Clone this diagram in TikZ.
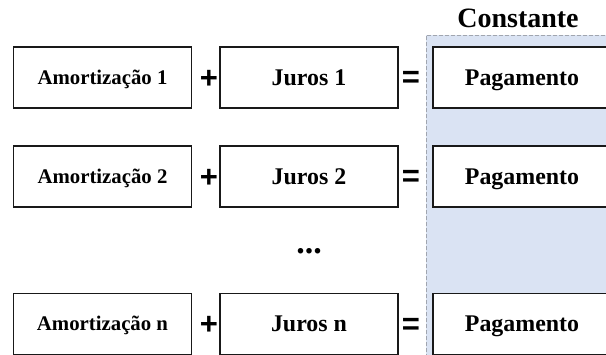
\documentclass[tikz,border=0pt]{standalone}
\usepackage{fontspec}
\setmainfont{Liberation Serif}
\newfontfamily\signfont{Liberation Sans}
\definecolor{constblue}{RGB}{218,227,243}
\definecolor{dashgray}{RGB}{160,165,175}
\tikzset{
  box/.style={draw=black!90, line width=1.3pt, rectangle, minimum width=178pt, minimum height=61pt, inner sep=0pt, fill=white},
  amort/.style={box, font=\fontsize{20.8}{23}\selectfont\bfseries, text height=13.8pt, text depth=0pt},
  juros/.style={box, font=\fontsize{23.9}{26}\selectfont\bfseries, text height=15.8pt, text depth=0pt},
  sign/.style={font=\fontsize{31}{33}\signfont\bfseries\selectfont, inner sep=0pt},
  title/.style={font=\fontsize{28}{30}\selectfont\bfseries, text height=18.5pt, text depth=0pt, inner sep=0pt}
}
\begin{document}
\begin{tikzpicture}[x=1pt,y=-1pt]
\useasboundingbox (0,0) rectangle (606,354);
\begin{scope}
\clip (0,0) rectangle (606,354);
% constant region
\fill[constblue] (426,35) rectangle (620,370);
\draw[dashgray, line width=0.9pt, dash pattern=on 4pt off 2pt] (426,370) -- (426,35) -- (620,35);
\node[title] (const) at (518,18.5) {Constante};
% row 1
\node[amort] (a1) at (102.5,77.5) {Amortização 1};
\node[juros] (j1) at (309,77.5) {Juros 1};
\node[juros] (p1) at (522,77.5) {Pagamento};
\node[sign] (plus1) at (209,79) {+};
\node[sign] (eq1) at (411,79.5) {=};
% row 2
\node[amort] (a2) at (102.5,176.5) {Amortização 2};
\node[juros] (j2) at (309,176.5) {Juros 2};
\node[juros] (p2) at (522,176.5) {Pagamento};
\node[sign] (plus2) at (209,178) {+};
\node[sign] (eq2) at (411,178.5) {=};
% dots
\node[font=\fontsize{34}{36}\selectfont\bfseries, inner sep=0pt] (dots) at (309,251) {...};
% row 3
\node[amort] (a3) at (102.5,324) {Amortização n};
\node[juros] (j3) at (309,324) {Juros n};
\node[juros] (p3) at (522,324) {Pagamento};
\node[sign] (plus3) at (209,325.5) {+};
\node[sign] (eq3) at (411,326) {=};
\end{scope}
\end{tikzpicture}
\end{document}
